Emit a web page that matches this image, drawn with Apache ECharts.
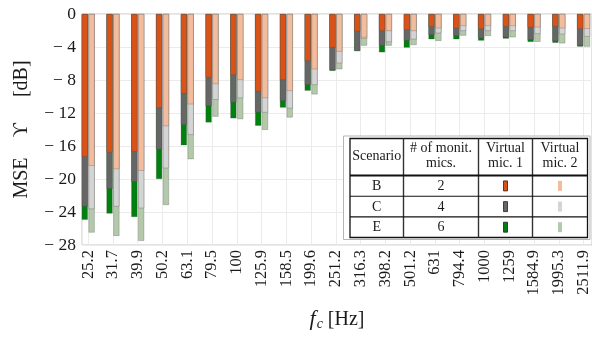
<!DOCTYPE html>
<html>
<head>
<meta charset="utf-8">
<script src="https://cdn.jsdelivr.net/npm/echarts@6/dist/echarts.min.js"></script>
<style>
  html, body { margin: 0; padding: 0; background: #fff; }
  #chart { width: 592px; height: 337px; }
</style>
</head>
<body>
<div id="chart"></div>
<script>
// Third-octave band centre frequencies (Hz)
const freqLabels = ['25.2', '31.7', '39.9', '50.2', '63.1', '79.5', '100', '125.9', '158.5',
  '199.6', '251.2', '316.3', '398.2', '501.2', '631', '794.4', '1000', '1259', '1584.9',
  '1995.3', '2511.9'];

// MSE (dB) at virtual microphone 1, per scenario
const mic1B = [-17.3, -16.8, -16.7, -11.4, -9.65, -7.7, -7.4, -9.4, -8.0, -5.7, -4.08, -2.1,
  -2.06, -1.94, -1.54, -1.74, -1.82, -1.54, -1.62, -1.54, -1.82];
const mic1C = [-23.35, -21.2, -20.35, -16.4, -13.45, -11.15, -10.75, -11.95, -10.55, -8.6, -6.8,
  -4.48, -3.84, -3.23, -2.55, -2.67, -2.95, -2.83, -3.15, -3.3, -3.84];
const mic1E = [-24.95, -24.2, -24.6, -20.0, -15.9, -13.15, -12.65, -13.55, -11.35, -9.3, -6.9,
  -4.5, -4.65, -4.08, -3.07, -3.07, -3.23, -2.99, -3.39, -3.5, -3.96];

// MSE (dB) at virtual microphone 2, per scenario
const mic2B = [-18.4, -18.8, -19.0, -13.6, -10.95, -8.5, -8.0, -10.2, -9.33, -6.7, -4.57, -2.85,
  -2.06, -2.06, -1.74, -1.45, -1.45, -1.45, -1.62, -1.74, -1.8];
const mic2C = [-23.65, -23.35, -23.55, -18.7, -14.65, -10.4, -10.2, -11.95, -11.45, -8.6, -5.98,
  -3.0, -3.4, -3.07, -2.34, -2.06, -2.06, -2.06, -2.42, -2.46, -2.75];
const mic2E = [-26.5, -26.9, -27.5, -23.15, -17.6, -12.45, -12.75, -14.05, -12.55, -9.75, -6.7,
  -3.84, -3.84, -3.76, -3.27, -2.63, -2.67, -2.83, -3.37, -3.56, -3.96];

// Legend table rows
const scenarios = ['B', 'C', 'E'];
const monitorMics = ['2', '4', '6'];

const colors = {
  B1: '#d95319', B2: '#f3bc9d',
  C1: '#666666', C2: '#d4d4d4',
  E1: '#00800f', E2: '#b3c9aa'
};

const serif = '"Liberation Serif", "DejaVu Serif", serif';
const textColor = '#1a1a1a';

const toPairs = arr => arr.map((v, i) => [i, v]);
const minus = v => (v < 0 ? '\u2212\u2005' + (-v) : String(v));

// Bars of one microphone share a slot and overlap (drawn from 0, scenario B on top).
function barSeries(name, values, color, slot) {
  return {
    name: name,
    type: 'bar',
    stack: slot,
    stackStrategy: 'positive',
    data: toPairs(values),
    barWidth: 6.2,
    barGap: '10%',
    itemStyle: { color: color, borderColor: 'rgba(70,70,70,0.45)', borderWidth: 0.6 },
    emphasis: { disabled: true },
    animation: false
  };
}

// Legend table geometry
const tbl = { x0: 350, x1: 587.5, y0: 138.5, yHead: 175.5, y1: 237.5 };
const colX = [350, 403.5, 478.5, 532.5, 587.5];
const rowY = [175.5, 196.3, 216.9, 237.5];
const colMid = i => (colX[i] + colX[i + 1]) / 2;
const rowMid = r => (rowY[r] + rowY[r + 1]) / 2;

const graphics = [];
graphics.push({ type: 'rect', shape: { x: 343.5, y: 136, width: 246.5, height: 103.5 },
  style: { fill: '#fff', stroke: '#b5b5b5', lineWidth: 1 }, z: 100 });
graphics.push({ type: 'rect', shape: { x: tbl.x0, y: tbl.y0, width: tbl.x1 - tbl.x0, height: tbl.y1 - tbl.y0 },
  style: { fill: '#fff', stroke: '#111', lineWidth: 1.3 }, z: 101 });
for (let i = 1; i < colX.length - 1; i++) {
  graphics.push({ type: 'line', shape: { x1: colX[i], y1: tbl.y0, x2: colX[i], y2: tbl.y1 },
    style: { stroke: '#333', lineWidth: 1.4 }, z: 102 });
}
graphics.push({ type: 'line', shape: { x1: tbl.x0, y1: tbl.yHead, x2: tbl.x1, y2: tbl.yHead },
  style: { stroke: '#111', lineWidth: 1.8 }, z: 102 });
[rowY[1], rowY[2]].forEach(y => {
  graphics.push({ type: 'line', shape: { x1: tbl.x0, y1: y, x2: tbl.x1, y2: y },
    style: { stroke: '#111', lineWidth: 1.1 }, z: 102 });
});

function cellText(text, x, y) {
  return { type: 'text', x: x, y: y, z: 103,
    style: { text: text, font: '14px ' + serif, fill: textColor, align: 'center', verticalAlign: 'middle' } };
}
graphics.push(cellText('Scenario', colMid(0), 156.5));
graphics.push(cellText('# of monit.', colMid(1), 148.5));
graphics.push(cellText('mics.', colMid(1), 163.5));
graphics.push(cellText('Virtual', colMid(2), 148.5));
graphics.push(cellText('mic. 1', colMid(2), 163.5));
graphics.push(cellText('Virtual', colMid(3), 148.5));
graphics.push(cellText('mic. 2', colMid(3), 163.5));

const swatch1 = [colors.B1, colors.C1, colors.E1];
const swatch2 = [colors.B2, colors.C2, colors.E2];
scenarios.forEach((s, r) => {
  const y = rowMid(r);
  graphics.push(cellText(s, colMid(0), y + 0.5));
  graphics.push(cellText(monitorMics[r], colMid(1), y + 0.5));
  graphics.push({ type: 'rect', z: 103, shape: { x: colMid(2) - 2, y: y - 5, width: 4, height: 10 },
    style: { fill: swatch1[r], stroke: '#222', lineWidth: 0.8 } });
  graphics.push({ type: 'rect', z: 103, shape: { x: colMid(3) - 2, y: y - 5, width: 4, height: 10 },
    style: { fill: swatch2[r], stroke: null } });
});

const chart = echarts.init(document.getElementById('chart'), null, { renderer: 'canvas' });
chart.setOption({
  animation: false,
  backgroundColor: '#fff',
  grid: {
    left: 82, right: 0, top: 14, bottom: 92,
    outerBoundsMode: 'none',
    containLabel: false,
    show: true, borderColor: '#c4c4c4', borderWidth: 1
  },
  xAxis: {
    type: 'value',
    min: -0.25,
    max: 20.34,
    splitNumber: 20,
    minInterval: 1,
    maxInterval: 1,
    axisLine: { show: false },
    axisTick: { show: false },
    splitLine: { show: true, lineStyle: { color: '#ebebeb', width: 1 } },
    axisLabel: {
      rotate: 90,
      margin: 5,
      fontFamily: serif,
      fontSize: 16.5,
      color: textColor,
      showMinLabel: true,
      showMaxLabel: true,
      formatter: v => (Number.isInteger(v) && freqLabels[v] !== undefined ? freqLabels[v] : '')
    },
    name: '{f|f}{c|c}{u| [Hz]}',
    nameLocation: 'middle',
    nameGap: 63,
    nameTextStyle: {
      rich: {
        f: { fontFamily: serif, fontStyle: 'italic', fontSize: 22, color: textColor },
        c: { fontFamily: serif, fontStyle: 'italic', fontSize: 14, color: textColor, verticalAlign: 'bottom', padding: [9, 0, 0, 1] },
        u: { fontFamily: serif, fontSize: 20, color: textColor }
      }
    }
  },
  yAxis: {
    type: 'value',
    min: -28,
    max: 0,
    interval: 4,
    axisLine: { show: false },
    axisTick: { show: false },
    splitLine: { show: true, lineStyle: { color: '#ebebeb', width: 1 } },
    axisLabel: { fontFamily: serif, fontSize: 17.5, color: textColor, margin: 6, formatter: minus },
    name: '{t|MSE}{g1|}{t|\u03D2}{g2|}{t|[dB]}',
    nameLocation: 'middle',
    nameRotate: 90,
    nameGap: 50,
    nameTextStyle: {
      rich: {
        t: { fontFamily: serif, fontSize: 20, color: textColor },
        g1: { width: 20 },
        g2: { width: 26 }
      }
    }
  },
  graphic: graphics,
  series: [
    barSeries('E mic 1', mic1E, colors.E1, 'mic1'),
    barSeries('C mic 1', mic1C, colors.C1, 'mic1'),
    barSeries('B mic 1', mic1B, colors.B1, 'mic1'),
    barSeries('E mic 2', mic2E, colors.E2, 'mic2'),
    barSeries('C mic 2', mic2C, colors.C2, 'mic2'),
    barSeries('B mic 2', mic2B, colors.B2, 'mic2')
  ]
});
</script>
</body>
</html>
